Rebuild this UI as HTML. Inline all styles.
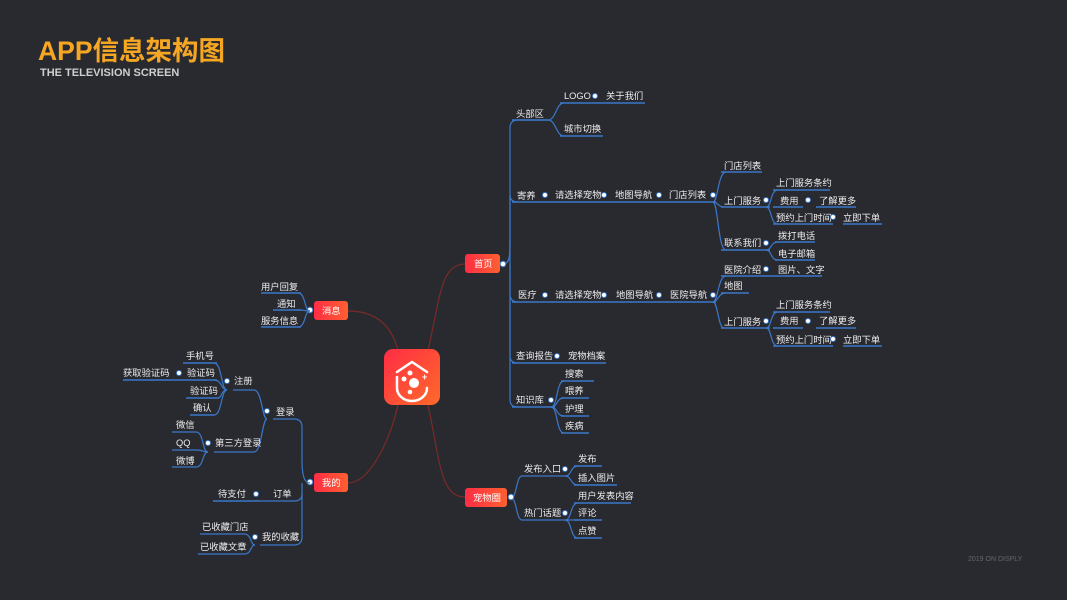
<!DOCTYPE html>
<html><head><meta charset="utf-8"><style>
html,body{margin:0;padding:0;background:#292a30;}
svg{display:block}
text{font-family:"Liberation Sans","Noto Sans CJK SC",sans-serif;font-size:9.3px;fill:#ededed}
.u{stroke:#3b78c9;stroke-width:1.6;fill:none}
.c{stroke:#3b78c9;stroke-width:1.2;fill:none}
.r{stroke:#7a2a26;stroke-width:1.2;fill:none}
.d{fill:#fff;stroke:#3b78c9;stroke-width:1}
</style></head><body>
<svg width="1067" height="600" viewBox="0 0 1067 600" xmlns="http://www.w3.org/2000/svg">
<defs>
<linearGradient id="g" x1="0" y1="0" x2="1" y2="1"><stop offset="0" stop-color="#ff2d45"/><stop offset="1" stop-color="#ff6a2a"/></linearGradient>
<linearGradient id="g2" x1="0" y1="0" x2="1" y2="0"><stop offset="0" stop-color="#ff2d45"/><stop offset="1" stop-color="#ff5f30"/></linearGradient>
</defs>
<text x="38" y="60" style="font-size:26.5px;font-weight:bold;fill:#f5a623">APP信息架构图</text>
<text x="40" y="76" style="font-size:11px;font-weight:bold;fill:#cfcfcf">THE TELEVISION SCREEN</text>
<text x="968" y="561" style="font-size:7px;fill:#666">2019 ON DISPLY</text>

<path class="r" d="M428,350 C440,300 440,264 465,264"/>
<path class="r" d="M428,405 C440,460 440,497 465,497"/>
<path class="r" d="M398,350 C390,320 370,311 348,311"/>
<path class="r" d="M398,405 C390,440 370,483 348,483"/>

<rect x="384" y="349" width="56" height="56" rx="9" fill="url(#g)"/>
<path d="M397,372 L412,362 L427,372" stroke="#fff" stroke-width="2.5" fill="none" stroke-linecap="round"/>
<path d="M397,377 L397,388 A15,13 0 0 0 427,388" stroke="#fff" stroke-width="2.5" fill="none" stroke-linecap="round"/>
<circle cx="414" cy="383" r="5" fill="#fff"/><circle cx="404" cy="379" r="2.5" fill="#fff"/><circle cx="410" cy="373" r="2.5" fill="#fff"/><circle cx="410" cy="392" r="2.3" fill="#fff"/>
<text x="422" y="380" style="font-size:9px;font-weight:bold;fill:#fff">+</text>

<rect x="465" y="254" width="35" height="19" rx="3" fill="url(#g2)"/><text x="474" y="267" style="fill:#fff">首页</text>
<rect x="465" y="488" width="42" height="19" rx="3" fill="url(#g2)"/><text x="473" y="501" style="fill:#fff">宠物圈</text>
<rect x="314" y="301" width="34" height="19" rx="3" fill="url(#g2)"/><text x="322" y="314" style="fill:#fff">消息</text>
<rect x="314" y="473" width="34" height="19" rx="3" fill="url(#g2)"/><text x="322" y="486" style="fill:#fff">我的</text>

<path class="c" d="M503,264 C510,264 510,256 510,240 L510,128 Q510,120 518,120 L548,120"/>
<path class="c" d="M503,264 C510,264 510,256 510,240 L510,195 Q510,202 518,202"/>
<path class="c" d="M510,240 L510,294 Q510,302 518,302"/>
<path class="c" d="M510,264 L510,356 Q510,363 518,363"/>
<path class="c" d="M510,300 L510,400 Q510,407 518,407"/>
<text x="516" y="117">头部区</text><path class="u" d="M512,120 L548,120"/>
<path class="c" d="M548,120 C556,120 556,103 564,103"/><path class="c" d="M548,120 C556,120 556,136 564,136"/>
<text x="564" y="99">LOGO</text><path class="u" d="M560,103 L603,103"/><circle class="d" cx="595" cy="96" r="2.5"/>
<text x="606" y="99">关于我们</text><path class="u" d="M603,103 L645,103"/>
<text x="564" y="132">城市切换</text><path class="u" d="M560,136 L603,136"/>

<text x="517" y="199">寄养</text><path class="u" d="M512,202 L548,202"/><circle class="d" cx="545" cy="195" r="2.5"/>
<text x="555" y="198">请选择宠物</text><path class="u" d="M548,202 L603,202"/><circle class="d" cx="604" cy="195" r="2.5"/>
<text x="615" y="198">地图导航</text><path class="u" d="M603,202 L654,202"/><circle class="d" cx="659" cy="195" r="2.5"/>
<text x="669" y="198">门店列表</text><path class="u" d="M654,202 L716,202"/><circle class="d" cx="713" cy="195" r="2.5"/>
<path class="c" d="M713,202 C718,202 718,172 726,172"/>
<path class="c" d="M713,202 C718,202 718,207 724,207"/>
<path class="c" d="M713,202 C718,202 718,250 726,250"/>
<text x="724" y="169">门店列表</text><path class="u" d="M721,172 L762,172"/>
<text x="724" y="204">上门服务</text><path class="u" d="M721,207 L770,207"/><circle class="d" cx="766" cy="200" r="2.5"/>
<path class="c" d="M766,207 C772,207 770,190 778,190"/><path class="c" d="M766,207 C772,207 770,224 778,224"/>
<text x="776" y="186">上门服务条约</text><path class="u" d="M773,190 L830,190"/>
<text x="780" y="204">费用</text><path class="u" d="M773,207 L803,207"/><circle class="d" cx="808" cy="200" r="2.5"/>
<text x="819" y="204">了解更多</text><path class="u" d="M816,207 L856,207"/>
<text x="776" y="221">预约上门时间</text><path class="u" d="M773,224 L833,224"/><circle class="d" cx="833" cy="217" r="2.5"/>
<text x="843" y="221">立即下单</text><path class="u" d="M843,224 L882,224"/>
<text x="724" y="246">联系我们</text><path class="u" d="M721,250 L770,250"/><circle class="d" cx="766" cy="243" r="2.5"/>
<path class="c" d="M766,250 C772,250 770,242 778,242"/><path class="c" d="M766,250 C772,250 770,260 778,260"/>
<text x="778" y="239">拨打电话</text><path class="u" d="M775,242 L815,242"/>
<text x="778" y="257">电子邮箱</text><path class="u" d="M775,260 L815,260"/>

<text x="518" y="298">医疗</text><path class="u" d="M512,302 L548,302"/><circle class="d" cx="545" cy="295" r="2.5"/>
<text x="555" y="298">请选择宠物</text><path class="u" d="M548,302 L603,302"/><circle class="d" cx="604" cy="295" r="2.5"/>
<text x="616" y="298">地图导航</text><path class="u" d="M603,302 L654,302"/><circle class="d" cx="659" cy="295" r="2.5"/>
<text x="670" y="298">医院导航</text><path class="u" d="M654,302 L716,302"/><circle class="d" cx="713" cy="295" r="2.5"/>
<path class="c" d="M713,302 C718,302 718,276 726,276"/>
<path class="c" d="M713,302 C718,302 718,293 726,293"/>
<path class="c" d="M713,302 C718,302 718,328 724,328"/>
<text x="724" y="273">医院介绍</text><path class="u" d="M721,276 L770,276"/><circle class="d" cx="766" cy="269" r="2.5"/>
<text x="778" y="273">图片、文字</text><path class="u" d="M770,276 L822,276"/>
<text x="724" y="289">地图</text><path class="u" d="M721,293 L749,293"/>
<text x="724" y="325">上门服务</text><path class="u" d="M721,328 L770,328"/><circle class="d" cx="766" cy="321" r="2.5"/>
<path class="c" d="M766,328 C772,328 770,312 778,312"/><path class="c" d="M766,328 C772,328 770,346 778,346"/>
<text x="776" y="308">上门服务条约</text><path class="u" d="M773,312 L830,312"/>
<text x="780" y="324">费用</text><path class="u" d="M773,328 L803,328"/><circle class="d" cx="808" cy="321" r="2.5"/>
<text x="819" y="324">了解更多</text><path class="u" d="M816,328 L856,328"/>
<text x="776" y="343">预约上门时间</text><path class="u" d="M773,346 L833,346"/><circle class="d" cx="833" cy="339" r="2.5"/>
<text x="843" y="343">立即下单</text><path class="u" d="M843,346 L882,346"/>

<text x="516" y="359">查询报告</text><path class="u" d="M512,363 L560,363"/><circle class="d" cx="557" cy="356" r="2.5"/>
<text x="568" y="359">宠物档案</text><path class="u" d="M560,363 L606,363"/>

<text x="516" y="403">知识库</text><path class="u" d="M512,407 L555,407"/><circle class="d" cx="551" cy="400" r="2.5"/>
<path class="c" d="M551,407 C558,407 556,381 564,381"/><path class="c" d="M551,407 C558,407 556,398 564,398"/>
<path class="c" d="M551,407 C558,407 556,416 564,416"/><path class="c" d="M551,407 C558,407 556,433 564,433"/>
<text x="565" y="377">搜索</text><path class="u" d="M561,381 L594,381"/>
<text x="565" y="394">喂养</text><path class="u" d="M561,398 L589,398"/>
<text x="565" y="412">护理</text><path class="u" d="M561,416 L589,416"/>
<text x="565" y="429">疾病</text><path class="u" d="M561,433 L589,433"/>
<circle class="d" cx="503" cy="264" r="2.8"/>

<path class="c" d="M511,498 C517,498 516,476 522,476 L568,476"/>
<path class="c" d="M511,498 C517,498 516,520 522,520 L568,520"/>
<circle class="d" cx="511" cy="497" r="2.8"/>
<text x="524" y="472">发布入口</text><circle class="d" cx="565" cy="469" r="2.5"/>
<path class="c" d="M565,476 C572,476 570,466 578,466"/><path class="c" d="M565,476 C572,476 570,485 578,485"/>
<text x="578" y="462">发布</text><path class="u" d="M574,466 L602,466"/>
<text x="578" y="481">插入图片</text><path class="u" d="M574,485 L617,485"/>
<text x="524" y="516">热门话题</text><circle class="d" cx="565" cy="513" r="2.5"/>
<path class="c" d="M565,520 C572,520 570,503 578,503"/><path class="c" d="M565,520 C572,520 570,520 578,520"/><path class="c" d="M565,520 C572,520 570,538 578,538"/>
<text x="578" y="499">用户发表内容</text><path class="u" d="M574,503 L631,503"/>
<text x="578" y="516">评论</text><path class="u" d="M574,520 L602,520"/>
<text x="578" y="534">点赞</text><path class="u" d="M574,538 L602,538"/>

<circle class="d" cx="310" cy="310" r="2.8"/>
<path class="c" d="M310,311 C304,311 306,293 298,293"/><path class="c" d="M310,311 C304,311 306,310 298,310"/><path class="c" d="M310,311 C304,311 306,327 298,327"/>
<text x="261" y="290">用户回复</text><path class="u" d="M261,293 L301,293"/>
<text x="277" y="307">通知</text><path class="u" d="M273,310 L301,310"/>
<text x="261" y="324">服务信息</text><path class="u" d="M261,327 L301,327"/>

<circle class="d" cx="310" cy="482" r="2.8"/>
<path class="c" d="M310,483 C304,483 302,475 302,460 L302,427 Q302,419 294,419 L273,419"/>
<path class="c" d="M302,483 L302,494 Q302,501 294,501 L260,501"/>
<path class="c" d="M302,494 L302,537 Q302,545 294,545 L260,545"/>
<text x="276" y="415">登录</text><circle class="d" cx="267" cy="411" r="2.5"/>
<path class="c" d="M267,419 C262,419 262,390 254,390 L233,390"/>
<path class="c" d="M267,419 C262,419 262,452 254,452 L214,452"/>
<text x="234" y="384">注册</text><circle class="d" cx="227" cy="381" r="2.5"/>
<path class="c" d="M227,390 C221,390 222,363 214,363"/><path class="c" d="M227,390 C221,390 222,380 214,380"/>
<path class="c" d="M227,390 C221,390 222,398 218,398"/><path class="c" d="M227,390 C221,390 222,415 214,415"/>
<text x="186" y="359">手机号</text><path class="u" d="M183,363 L217,363"/>
<text x="187" y="376">验证码</text><path class="u" d="M183,380 L217,380"/><circle class="d" cx="179" cy="373" r="2.5"/>
<text x="123" y="376">获取验证码</text><path class="u" d="M123,380 L183,380"/>
<text x="190" y="394">验证码</text><path class="u" d="M186,398 L219,398"/>
<text x="193" y="411">确认</text><path class="u" d="M190,415 L214,415"/>
<text x="215" y="446">第三方登录</text><circle class="d" cx="208" cy="443" r="2.5"/>
<path class="c" d="M208,452 C202,452 204,432 196,432 L172,432"/><path class="c" d="M208,452 C202,452 204,450 196,450 L172,450"/><path class="c" d="M208,452 C202,452 204,467 196,467 L172,467"/>
<text x="176" y="428">微信</text><text x="176" y="446">QQ</text><text x="176" y="464">微博</text>
<text x="273" y="497">订单</text><circle class="d" cx="256" cy="494" r="2.5"/>
<text x="218" y="497">待支付</text><path class="u" d="M213,501 L260,501"/>
<text x="262" y="540">我的收藏</text><circle class="d" cx="255" cy="537" r="2.5"/>
<path class="c" d="M255,545 C250,545 252,534 244,534 L200,534"/><path class="c" d="M255,545 C250,545 252,554 244,554 L198,554"/>
<text x="202" y="530">已收藏门店</text><text x="200" y="550">已收藏文章</text>
</svg>
</body></html>
